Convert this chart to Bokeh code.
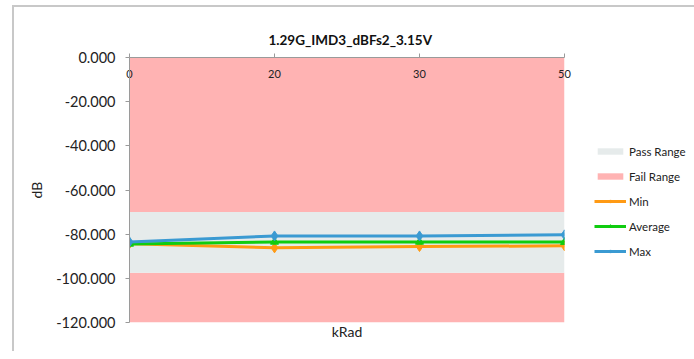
from bokeh.plotting import figure
from bokeh.models import (ColumnDataSource, Legend, LegendItem, LinearAxis,
                          NumeralTickFormatter, FixedTicker, Range1d)
from bokeh.embed import file_html
from bokeh.resources import INLINE

# ---- data ----
krad_labels = ["0", "20", "30", "50"]
min_vals = [-84.3, -86.2, -85.6, -85.3]
avg_vals = [-84.4, -83.5, -83.5, -83.6]
max_vals = [-83.5, -80.8, -80.8, -80.3]
pass_low = -97.5
pass_high = -70.0
y_min, y_max = -120.0, 0.0
y_ticks = [0, -20, -40, -60, -80, -100, -120]

idx = list(range(len(krad_labels)))
n = len(idx)

FONT = "Lato"
TXT = "#222222"

src = ColumnDataSource(dict(
    x=idx, mn=min_vals, av=avg_vals, mx=max_vals,
    top=[y_max] * n, bot=[y_min] * n,
    plo=[pass_low] * n, phi=[pass_high] * n,
))

p = figure(frame_width=435, frame_height=265,
           min_border_left=115, min_border_right=110,
           min_border_top=50, min_border_bottom=29,
           x_range=Range1d(0, n - 1), y_range=Range1d(y_min, y_max),
           x_axis_location="above",
           output_backend="svg", toolbar_location=None,
           title="1.29G_IMD3_dBFs2_3.15V")
p.styles = {"border-left": "2px solid #c8c8c8", "border-top": "2px solid #c8c8c8",
            "margin-left": "12px", "margin-top": "5px"}

p.title.align = "left"
p.title.offset = 139
p.title.standoff = 20
p.title.text_font = FONT
p.title.text_font_size = "13.5px"
p.title.text_font_style = "bold"
p.title.text_color = "#111111"
p.outline_line_color = None
p.background_fill_color = "white"
p.grid.visible = False

# areas
fail_top = p.varea(x="x", y1="phi", y2="top", source=src, fill_color="#FFB3B3")
fail_bot = p.varea(x="x", y1="bot", y2="plo", source=src, fill_color="#FFB3B3")
pass_r = p.varea(x="x", y1="plo", y2="phi", source=src, fill_color="#E6EBEB")

# series
min_l = p.line("x", "mn", source=src, line_color="#FF9A14", line_width=3)
min_m = p.scatter("x", "mn", source=src, marker="diamond", size=10,
                  fill_color="#FF9A14", line_color="#FF9A14")
avg_l = p.line("x", "av", source=src, line_color="#10CC10", line_width=3)
avg_m = p.scatter("x", "av", source=src, marker="triangle", size=8,
                  fill_color="#10CC10", line_color="#10CC10")
max_l = p.line("x", "mx", source=src, line_color="#3A9AD2", line_width=3)
max_m = p.scatter("x", "mx", source=src, marker="diamond", size=10,
                  fill_color="#3A9AD2", line_color="#3A9AD2")

# x axis (top, crossing at 0): labels drawn inside the plot
xa = p.xaxis[0]
xa.ticker = FixedTicker(ticks=idx)
xa.major_label_overrides = {i: lab for i, lab in zip(idx, krad_labels)}
xa.major_label_text_font = FONT
xa.major_label_text_font_size = "11px"
xa.major_label_text_color = TXT
xa.major_label_standoff = -24
xa.major_tick_out = 4
xa.major_tick_in = 0
xa.minor_tick_line_color = None
xa.axis_line_color = "#9a9a9a"
xa.major_tick_line_color = "#9a9a9a"

# bottom axis: title only
xb = LinearAxis(axis_label="kRad", ticker=FixedTicker(ticks=[]))
xb.axis_line_color = None
xb.major_tick_line_color = None
xb.minor_tick_line_color = None
xb.axis_label_text_font = FONT
xb.axis_label_text_font_size = "14px"
xb.axis_label_text_font_style = "normal"
xb.axis_label_text_color = TXT
xb.axis_label_standoff = 0
p.add_layout(xb, "below")

ya = p.yaxis[0]
ya.ticker = FixedTicker(ticks=y_ticks)
ya.formatter = NumeralTickFormatter(format="0.000")
ya.axis_label = "dB"
ya.axis_label_text_font = FONT
ya.axis_label_text_font_size = "14px"
ya.axis_label_text_font_style = "normal"
ya.axis_label_text_color = TXT
ya.axis_label_standoff = 8
ya.major_label_text_font = FONT
ya.major_label_text_font_size = "14.5px"
ya.major_label_text_color = TXT
ya.major_label_standoff = 10
ya.major_tick_out = 4
ya.major_tick_in = 0
ya.minor_tick_line_color = None
ya.axis_line_color = "#9a9a9a"
ya.major_tick_line_color = "#9a9a9a"

legend = Legend(items=[
    LegendItem(label="Pass Range", renderers=[pass_r]),
    LegendItem(label="Fail Range", renderers=[fail_top]),
    LegendItem(label="Min", renderers=[min_l, min_m]),
    LegendItem(label="Average", renderers=[avg_l, avg_m]),
    LegendItem(label="Max", renderers=[max_l, max_m]),
], location=(30, 61))
legend.margin = 0
legend.padding = 10
legend.spacing = 5
legend.glyph_width = 32
legend.glyph_height = 8
legend.label_height = 20
legend.label_standoff = 3
legend.label_text_font = FONT
legend.label_text_font_size = "11.5px"
legend.label_text_color = TXT
legend.border_line_color = None
legend.background_fill_alpha = 0
p.add_layout(legend, "right")

open("out.html", "w").write(file_html(p, INLINE))
